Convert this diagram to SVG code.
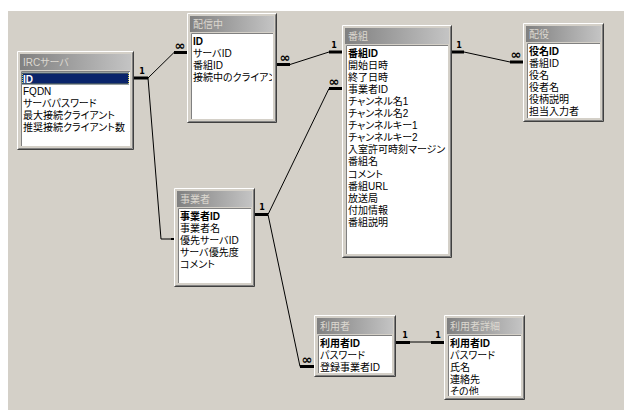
<svg xmlns="http://www.w3.org/2000/svg" width="624" height="410" viewBox="0 0 624 410">
<defs>
<linearGradient id="tg" x1="0" y1="0" x2="1" y2="0">
<stop offset="0" stop-color="#808080"/>
<stop offset="1" stop-color="#c4c4c4"/>
</linearGradient>
<style>
.win{fill:#d4d0c8}
.lt{fill:none;stroke:#ffffff;stroke-width:1}
.dk{fill:none;stroke:#404040;stroke-width:1}
.md{fill:none;stroke:#808080;stroke-width:1}
.ttl{fill:url(#tg)}
.tt{font-family:"Liberation Sans","Noto Sans CJK JP",sans-serif;font-size:10px;fill:#dcd8d0;font-feature-settings:"palt"}
.lst{fill:#ffffff}
.f{font-family:"Liberation Sans","Noto Sans CJK JP",sans-serif;font-size:10px;fill:#000;font-feature-settings:"palt"}
.pk{font-weight:bold}
.sel{fill:#0a246a}
.selt{fill:#ffffff}
.ln{fill:none;stroke:#000;stroke-width:1}
.stub{fill:none;stroke:#000;stroke-width:3}
.one{font-family:"DejaVu Sans",sans-serif;font-size:8px;font-weight:bold;fill:#000;text-anchor:middle}
.many{font-family:"DejaVu Sans",sans-serif;font-size:13px;font-weight:bold;fill:#000;text-anchor:middle}
</style>
</defs>
<rect x="0" y="0" width="624" height="410" fill="#ffffff"/>
<rect x="8" y="11" width="616" height="399" fill="#d4d0c8"/>

<g id="connectors">
<path class="stub" d="M134 78H148"/>
<path class="ln" d="M148 78L174 52.5"/>
<path class="stub" d="M174 52.5H187"/>
<text class="one" x="142" y="74">1</text>
<text class="many" x="180" y="50">∞</text>
<path class="ln" d="M148 78L161 239H172"/>
<rect x="171" y="238" width="3" height="2" fill="#000"/>
<path class="stub" d="M277 64.5H290"/>
<path class="ln" d="M290 64.5L329 52"/>
<path class="stub" d="M329 52H342"/>
<text class="many" x="285" y="62">∞</text>
<text class="one" x="334" y="48">1</text>
<path class="stub" d="M255 214.5H268"/>
<path class="ln" d="M268 214.5L329 88.5"/>
<path class="stub" d="M329 88.5H342"/>
<text class="one" x="262" y="210">1</text>
<text class="many" x="334" y="86">∞</text>
<path class="ln" d="M268 214.5L300 366.5"/>
<path class="stub" d="M300 366.5H314"/>
<text class="many" x="307" y="364">∞</text>
<path class="stub" d="M452 52H464"/>
<path class="ln" d="M464 52L510 62"/>
<path class="stub" d="M510 62H523"/>
<text class="one" x="459" y="48">1</text>
<text class="many" x="516" y="59">∞</text>
<path class="stub" d="M396 342.5H410"/>
<path class="ln" d="M410 342H431"/>
<path class="stub" d="M431 342.5H444"/>
<text class="one" x="405" y="338">1</text>
<text class="one" x="438" y="338">1</text>
</g>

<g id="irc" transform="translate(17,51)">
<rect class="win" width="117" height="99"/>
<path class="lt" d="M0.5 98V0.5H116"/>
<path class="dk" d="M0.5 98.5H116.5V0.5"/>
<path class="md" d="M1.5 97.5H115.5V1.5"/>
<rect class="ttl" x="3" y="3" width="111" height="16"/>
<text class="tt" x="6" y="15">IRCサーバ</text>
<rect class="lst" x="4" y="20" width="109" height="75"/>
<path class="md" d="M4.5 95V20.5H113"/>
<svg x="5" y="21" width="107" height="73">
<rect class="sel" x="0" y="0.5" width="107" height="12"/>
<rect x="0.5" y="1" width="106" height="11" fill="none" stroke="#d4d060" stroke-width="1" stroke-dasharray="1 1"/>
<text class="f pk selt" x="1" y="10.5">ID</text>
<text class="f" x="1" y="22.6">FQDN</text>
<text class="f" x="1" y="34.7">サーバパスワード</text>
<text class="f" x="1" y="46.8">最大接続クライアント</text>
<text class="f" x="1" y="58.9">推奨接続クライアント数</text>
</svg>
</g>

<g id="haishinchu" transform="translate(187,13)">
<rect class="win" width="90" height="110"/>
<path class="lt" d="M0.5 109V0.5H89"/>
<path class="dk" d="M0.5 109.5H89.5V0.5"/>
<path class="md" d="M1.5 108.5H88.5V1.5"/>
<rect class="ttl" x="3" y="3" width="84" height="16"/>
<text class="tt" x="6" y="15">配信中</text>
<rect class="lst" x="4" y="20" width="82" height="86"/>
<path class="md" d="M4.5 106V20.5H86"/>
<svg x="5" y="21" width="80" height="84">
<text class="f pk" x="1" y="10.5">ID</text>
<text class="f" x="1" y="22.6">サーバID</text>
<text class="f" x="1" y="34.7">番組ID</text>
<text class="f" x="1" y="46.8">接続中のクライアント</text>
</svg>
</g>

<g id="bangumi" transform="translate(342,25)">
<rect class="win" width="110" height="233"/>
<path class="lt" d="M0.5 232V0.5H109"/>
<path class="dk" d="M0.5 232.5H109.5V0.5"/>
<path class="md" d="M1.5 231.5H108.5V1.5"/>
<rect class="ttl" x="3" y="3" width="104" height="16"/>
<text class="tt" x="6" y="15">番組</text>
<rect class="lst" x="4" y="20" width="102" height="209"/>
<path class="md" d="M4.5 229V20.5H106"/>
<svg x="5" y="21" width="100" height="207">
<text class="f pk" x="1" y="10.5">番組ID</text>
<text class="f" x="1" y="22.6">開始日時</text>
<text class="f" x="1" y="34.7">終了日時</text>
<text class="f" x="1" y="46.8">事業者ID</text>
<text class="f" x="1" y="58.9">チャンネル名1</text>
<text class="f" x="1" y="71">チャンネル名2</text>
<text class="f" x="1" y="83.1">チャンネルキー1</text>
<text class="f" x="1" y="95.2">チャンネルキー2</text>
<text class="f" x="1" y="107.3">入室許可時刻マージン</text>
<text class="f" x="1" y="119.4">番組名</text>
<text class="f" x="1" y="131.5">コメント</text>
<text class="f" x="1" y="143.6">番組URL</text>
<text class="f" x="1" y="155.7">放送局</text>
<text class="f" x="1" y="167.8">付加情報</text>
<text class="f" x="1" y="179.9">番組説明</text>
</svg>
</g>

<g id="haiyaku" transform="translate(523,23)">
<rect class="win" width="81" height="99"/>
<path class="lt" d="M0.5 98V0.5H80"/>
<path class="dk" d="M0.5 98.5H80.5V0.5"/>
<path class="md" d="M1.5 97.5H79.5V1.5"/>
<rect class="ttl" x="3" y="3" width="75" height="16"/>
<text class="tt" x="6" y="15">配役</text>
<rect class="lst" x="4" y="20" width="73" height="75"/>
<path class="md" d="M4.5 95V20.5H77"/>
<svg x="5" y="21" width="71" height="73">
<text class="f pk" x="1" y="10.5">役名ID</text>
<text class="f" x="1" y="22.6">番組ID</text>
<text class="f" x="1" y="34.7">役名</text>
<text class="f" x="1" y="46.8">役者名</text>
<text class="f" x="1" y="58.9">役柄説明</text>
<text class="f" x="1" y="71">担当入力者</text>
</svg>
</g>

<g id="jigyosha" transform="translate(174,188)">
<rect class="win" width="81" height="99"/>
<path class="lt" d="M0.5 98V0.5H80"/>
<path class="dk" d="M0.5 98.5H80.5V0.5"/>
<path class="md" d="M1.5 97.5H79.5V1.5"/>
<rect class="ttl" x="3" y="3" width="75" height="16"/>
<text class="tt" x="6" y="15">事業者</text>
<rect class="lst" x="4" y="20" width="73" height="75"/>
<path class="md" d="M4.5 95V20.5H77"/>
<svg x="5" y="21" width="71" height="73">
<text class="f pk" x="1" y="10.5">事業者ID</text>
<text class="f" x="1" y="22.6">事業者名</text>
<text class="f" x="1" y="34.7">優先サーバID</text>
<text class="f" x="1" y="46.8">サーバ優先度</text>
<text class="f" x="1" y="58.9">コメント</text>
</svg>
</g>

<g id="riyosha" transform="translate(314,315)">
<rect class="win" width="82" height="62"/>
<path class="lt" d="M0.5 61V0.5H81"/>
<path class="dk" d="M0.5 61.5H81.5V0.5"/>
<path class="md" d="M1.5 60.5H80.5V1.5"/>
<rect class="ttl" x="3" y="3" width="76" height="16"/>
<text class="tt" x="6" y="15">利用者</text>
<rect class="lst" x="4" y="20" width="74" height="38"/>
<path class="md" d="M4.5 58V20.5H78"/>
<svg x="5" y="21" width="72" height="36">
<text class="f pk" x="1" y="10.5">利用者ID</text>
<text class="f" x="1" y="22.6">パスワード</text>
<text class="f" x="1" y="34.7">登録事業者ID</text>
</svg>
</g>

<g id="riyosha-shosai" transform="translate(444,315)">
<rect class="win" width="81" height="85"/>
<path class="lt" d="M0.5 84V0.5H80"/>
<path class="dk" d="M0.5 84.5H80.5V0.5"/>
<path class="md" d="M1.5 83.5H79.5V1.5"/>
<rect class="ttl" x="3" y="3" width="75" height="16"/>
<text class="tt" x="6" y="15">利用者詳細</text>
<rect class="lst" x="4" y="20" width="73" height="61"/>
<path class="md" d="M4.5 81V20.5H77"/>
<svg x="5" y="21" width="71" height="59">
<text class="f pk" x="1" y="10.5">利用者ID</text>
<text class="f" x="1" y="22.6">パスワード</text>
<text class="f" x="1" y="34.7">氏名</text>
<text class="f" x="1" y="46.8">連絡先</text>
<text class="f" x="1" y="58.9">その他</text>
</svg>
</g>
</svg>
